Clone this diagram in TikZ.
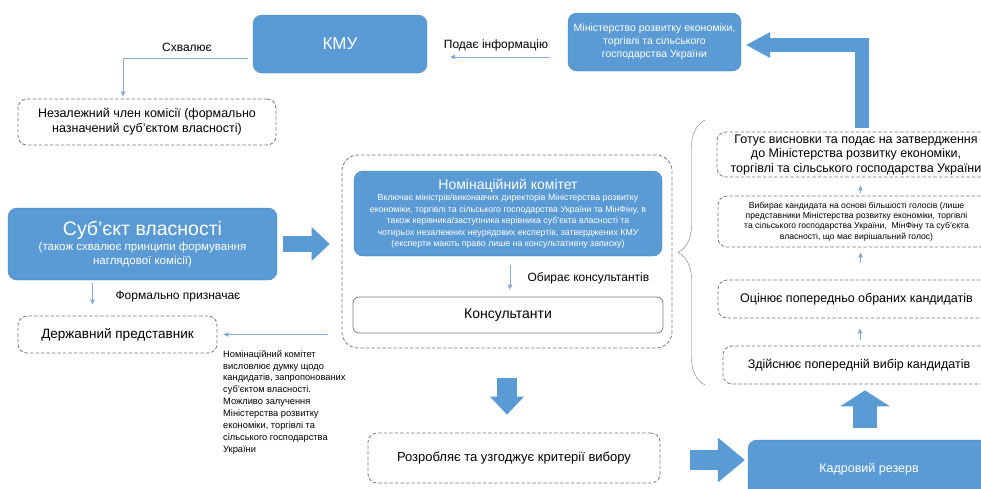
\documentclass[tikz,border=0pt]{standalone}
\usepackage{fontspec}
\setmainfont{Liberation Sans}
\usetikzlibrary{arrows.meta,decorations.pathreplacing}
\definecolor{boxblue}{HTML}{5B9BD5}
\definecolor{boxedge}{HTML}{4A85BE}
\definecolor{thinblue}{HTML}{8AAAD2}
\definecolor{dashgray}{HTML}{7A7A7A}
\begin{document}
\begin{tikzpicture}[x=1pt,y=-1pt,
        bluebox/.style={draw=boxedge,fill=boxblue,text=white,rounded corners=9pt,align=center,inner sep=0pt},
        dashbox/.style={draw=dashgray,line width=0.8pt,dash pattern=on 3.5pt off 2pt,rounded corners=9pt,align=center,inner sep=0pt},
        thinarr/.style={draw=thinblue,line width=0.7pt,-{Triangle[length=5pt,width=4.5pt]}},
        fatarr/.style={draw=boxblue,line join=miter}]
    \useasboundingbox[fill=white] (0,0) rectangle (981,488);
    % top row
    \node[bluebox,minimum width=174,minimum height=58,font=\fontsize{17}{20}\selectfont] (kmu) at (340,44) {КМУ};
    \node[bluebox,minimum width=173,minimum height=58,font=\fontsize{10.5}{13}\selectfont] (minecon) at (654.5,42) {Міністерство розвитку економіки,\\торгівлі та сільського\\господарства України};
    \node[dashbox,minimum width=258,minimum height=46,font=\fontsize{12.5}{15}\selectfont] (member) at (147,122) {Незалежний член комісії (формально\\назначений суб'єктом власності)};
    \node[font=\fontsize{12}{14}\selectfont] (approves) at (187,47) {Схвалює};
    \node[font=\fontsize{12}{14}\selectfont] (informs) at (496,45) {Подає інформацію};
    % left side
    \node[bluebox,minimum width=269,minimum height=72,font=\fontsize{11.5}{14}\selectfont] (owner) at (142.5,244) {{\fontsize{19.5}{23}\selectfont Суб’єкт власності}\\[1pt](також схвалює принципи формування\\наглядової комісії)};
    \node[font=\fontsize{12}{14}\selectfont] (appoints) at (178,297) {Формально призначає};
    \node[dashbox,minimum width=199,minimum height=37,font=\fontsize{13.5}{16}\selectfont] (staterep) at (117.5,334.5) {Державний представник};
    \node[anchor=north west,align=left,inner sep=0pt,font=\fontsize{9.3}{11.9}\selectfont] (opinion) at (223,350) {Номінаційний комітет\\висловлює думку щодо\\кандидатів, запропонованих\\суб'єктом власності.\\Можливо залучення\\Міністерства розвитку\\економіки, торгівлі та\\сільського господарства\\України};
    % nomination committee
    \node[dashbox,minimum width=330,minimum height=193,rounded corners=16pt] (nomcont) at (507,251.5) {};
    \node[bluebox,minimum width=308,minimum height=85,font=\fontsize{8.8}{11.5}\selectfont] (nomcom) at (508,213.5) {{\fontsize{14}{17}\selectfont Номінаційний комітет}\\Включає міністрів/виконавчих директорів Міністерства розвитку\\економіки, торгівлі та сільського господарства України та МінФіну, в\\також керівника/заступника керівника суб'єкта власності та\\чотирьох незалежних неурядових експертів, затверджених КМУ\\(експерти мають право лише на консультативну записку)};
    \node[draw=dashgray,line width=0.8pt,rounded corners=6pt,minimum width=310,minimum height=36,font=\fontsize{14}{16}\selectfont] (consult) at (508,315) {Консультанти};
    \node[anchor=west,font=\fontsize{12}{14}\selectfont] (picks) at (524,278) {Обирає консультантів};
    % bottom row
    \node[dashbox,minimum width=292,minimum height=50,font=\fontsize{13}{15}\selectfont] (criteria) at (514,458) {Розробляє та узгоджує критерії вибору};
    \node[bluebox,minimum width=242,minimum height=60,font=\fontsize{12.5}{15}\selectfont] (reserve) at (869,470) {\raisebox{4pt}{Кадровий резерв}};
    % right column
    \node[dashbox,minimum width=278,minimum height=45,font=\fontsize{12.5}{14.5}\selectfont] (conclude) at (856,154.5) {Готує висновки та подає на затвердження\\до Міністерства розвитку економіки,\\торгівлі та сільського господарства України};
    \node[dashbox,minimum width=277,minimum height=51,font=\fontsize{8.6}{10.3}\selectfont] (choose) at (856.5,221.5) {Вибирає кандидата на основі більшості голосів (лише\\представники Міністерства розвитку економіки, торгівлі\\та сільського господарства України,~ МінФіну та суб'єкта\\власності, що має вирішальний голос)};
    \node[dashbox,minimum width=277,minimum height=38,font=\fontsize{12.5}{15}\selectfont] (assess) at (856.5,299) {Оцінює попередньо обраних кандидатів};
    \node[dashbox,minimum width=272,minimum height=38,font=\fontsize{12.5}{15}\selectfont] (preselect) at (859,365) {Здійснює попередній вибір кандидатів};
    \draw[dashgray,decorate,decoration={brace,amplitude=27pt}] (705,385) -- (705,120);
    % thin arrows
    \draw[thinarr,shorten <=5pt,shorten >=2pt] ([yshift=-14pt]kmu.west) -| ([xshift=-24pt]member.north);
    \draw[thinarr,shorten <=18pt,shorten >=23pt] ([yshift=-15pt]minecon.west) -- ([yshift=-15pt]minecon.west -| kmu.east);
    \draw[thinarr,shorten <=3pt,shorten >=11pt] ([xshift=-50pt]owner.south) -- ([xshift=-50pt]owner.south |- staterep.north);
    \draw[thinarr,shorten <=14pt,shorten >=6pt] (nomcont.west |- staterep.east) -- (staterep.east);
    \draw[thinarr,shorten <=9pt,shorten >=7pt] ([xshift=2pt]nomcom.south) -- ([xshift=2pt]nomcom.south |- consult.north);
    \draw[thinarr,shorten <=3pt,shorten >=8pt] ([xshift=4pt]choose.north) -- ([xshift=4pt]choose.north |- conclude.south);
    \draw[thinarr,shorten <=17pt,shorten >=5pt] ([xshift=4pt]assess.north) -- ([xshift=4pt]assess.north |- choose.south);
    \draw[thinarr,shorten <=6pt,shorten >=10pt] ([xshift=1pt]preselect.north) -- ([xshift=1pt]preselect.north |- assess.south);
    % block arrows
    \draw[fatarr,line width=16pt,-{Triangle[length=18pt,width=34pt,line width=0pt]},shorten <=6pt,shorten >=12pt] (owner.east) -- (owner.east -| nomcont.west);
    \draw[fatarr,line width=20pt,-{Triangle[length=18pt,width=34pt,line width=0pt]},shorten <=30pt,shorten >=18pt] (nomcont.south) -- (nomcont.south |- criteria.north);
    \draw[fatarr,line width=20pt,-{Triangle[length=27pt,width=45pt,line width=0pt]},shorten <=30pt,shorten >=3pt] ([yshift=-2pt]criteria.east) -- ([yshift=-2pt]criteria.east -| reserve.west);
    \draw[fatarr,line width=24pt,-{Triangle[length=16pt,width=50pt,line width=0pt]},shorten <=12pt,shorten >=6pt] ([xshift=-4pt]reserve.north) -- ([xshift=-4pt]reserve.north |- preselect.south);
    \draw[fatarr,line width=14pt,-{Triangle[length=24pt,width=26pt,line width=0pt]},shorten <=4pt,shorten >=5pt] ([xshift=6pt]conclude.north) |- ([yshift=-3pt]minecon.east);
\end{tikzpicture}
\end{document}
